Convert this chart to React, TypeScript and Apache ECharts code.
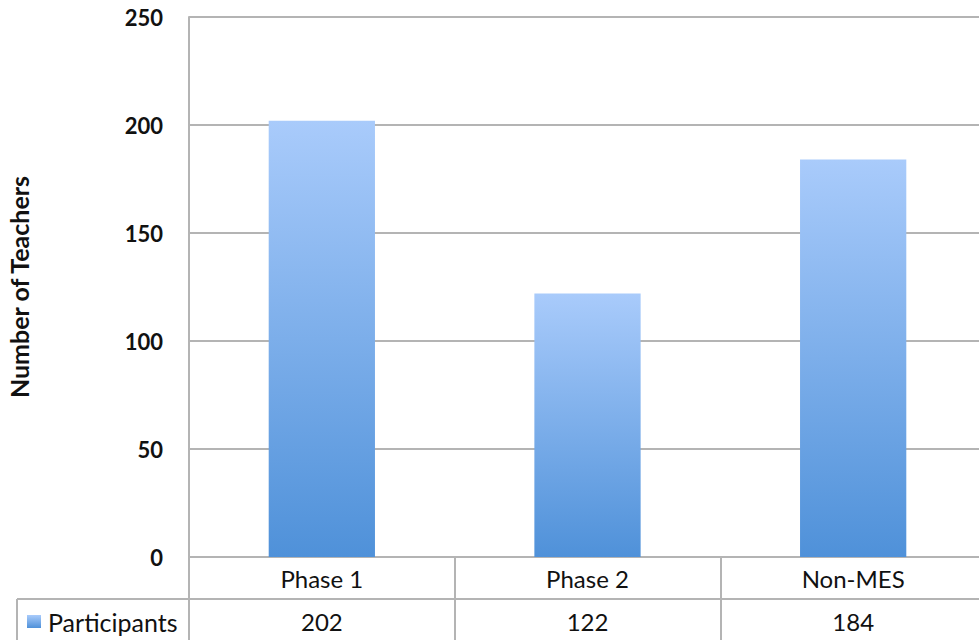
import React, { useEffect, useRef } from "react";
import * as echarts from "echarts";

const categories = ["Phase 1", "Phase 2", "Non-MES"];
const participants = [202, 122, 184];
const seriesName = "Participants";
const yTicks = [0, 50, 100, 150, 200, 250];
const yTitle = "Number of Teachers";

export default function App() {
  const ref = useRef<HTMLDivElement>(null);
  useEffect(() => {
    if (!ref.current) return;
    const chart = echarts.init(ref.current, null, { renderer: "svg" });
    const grey = "#b4b4b4";
    const barGrad = new echarts.graphic.LinearGradient(0, 0, 0, 1, [
      { offset: 0, color: "#a9cbfb" },
      { offset: 1, color: "#4f91d9" },
    ]);
    const font = "Lato, 'Open Sans', sans-serif";
    chart.setOption({
      animation: false,
      backgroundColor: "#ffffff",
      grid: { left: 189, right: -7, top: 17, bottom: 83, containLabel: false, outerBoundsMode: "none" },
      xAxis: [
        {
          type: "category",
          data: categories,
          position: "bottom",
          axisLine: { show: true, lineStyle: { color: grey, width: 2 } },
          axisTick: { show: true, length: 83, lineStyle: { color: grey, width: 2 } },
          axisLabel: { margin: 9, fontFamily: font, fontSize: 24, color: "#111" },
          splitLine: { show: false },
        },
        {
          type: "category",
          data: participants.map(String),
          position: "bottom",
          axisLine: { show: false },
          axisTick: { show: false },
          axisLabel: { margin: 52, fontFamily: font, fontSize: 24, color: "#111" },
        },
      ],
      yAxis: {
        type: "value",
        min: yTicks[0],
        max: yTicks[yTicks.length - 1],
        interval: 50,
        name: yTitle,
        nameLocation: "middle",
        nameGap: 158,
        nameRotate: 90,
        nameTextStyle: { fontFamily: font, fontSize: 25, fontWeight: "bold", color: "#111" },
        axisLine: { show: true, lineStyle: { color: grey, width: 2 } },
        axisTick: { show: false },
        axisLabel: { margin: 26, fontFamily: font, fontSize: 22, fontWeight: "bold", color: "#111" },
        splitLine: { show: true, lineStyle: { color: grey, width: 2 } },
      },
      series: [
        {
          name: seriesName,
          type: "bar",
          data: participants,
          barWidth: "40%",
          itemStyle: { color: barGrad },
        },
      ],
      graphic: [
        { type: "line", shape: { x1: 17, y1: 599, x2: 979, y2: 599 }, style: { stroke: grey, lineWidth: 2 } },
        { type: "line", shape: { x1: 17, y1: 599, x2: 17, y2: 640 }, style: { stroke: grey, lineWidth: 2 } },
        {
          type: "rect",
          shape: { x: 27, y: 615, width: 14, height: 13 },
          style: { fill: barGrad },
        },
        {
          type: "text",
          x: 48,
          y: 622,
          style: {
            text: seriesName,
            fontFamily: font,
            fontSize: 25,
            fill: "#111",
            verticalAlign: "middle",
            align: "left",
          },
        },
      ],
    });
    return () => chart.dispose();
  }, []);
  return <div ref={ref} style={{ width: 979, height: 640, position: "absolute", left: 0, top: 0 }} />;
}
